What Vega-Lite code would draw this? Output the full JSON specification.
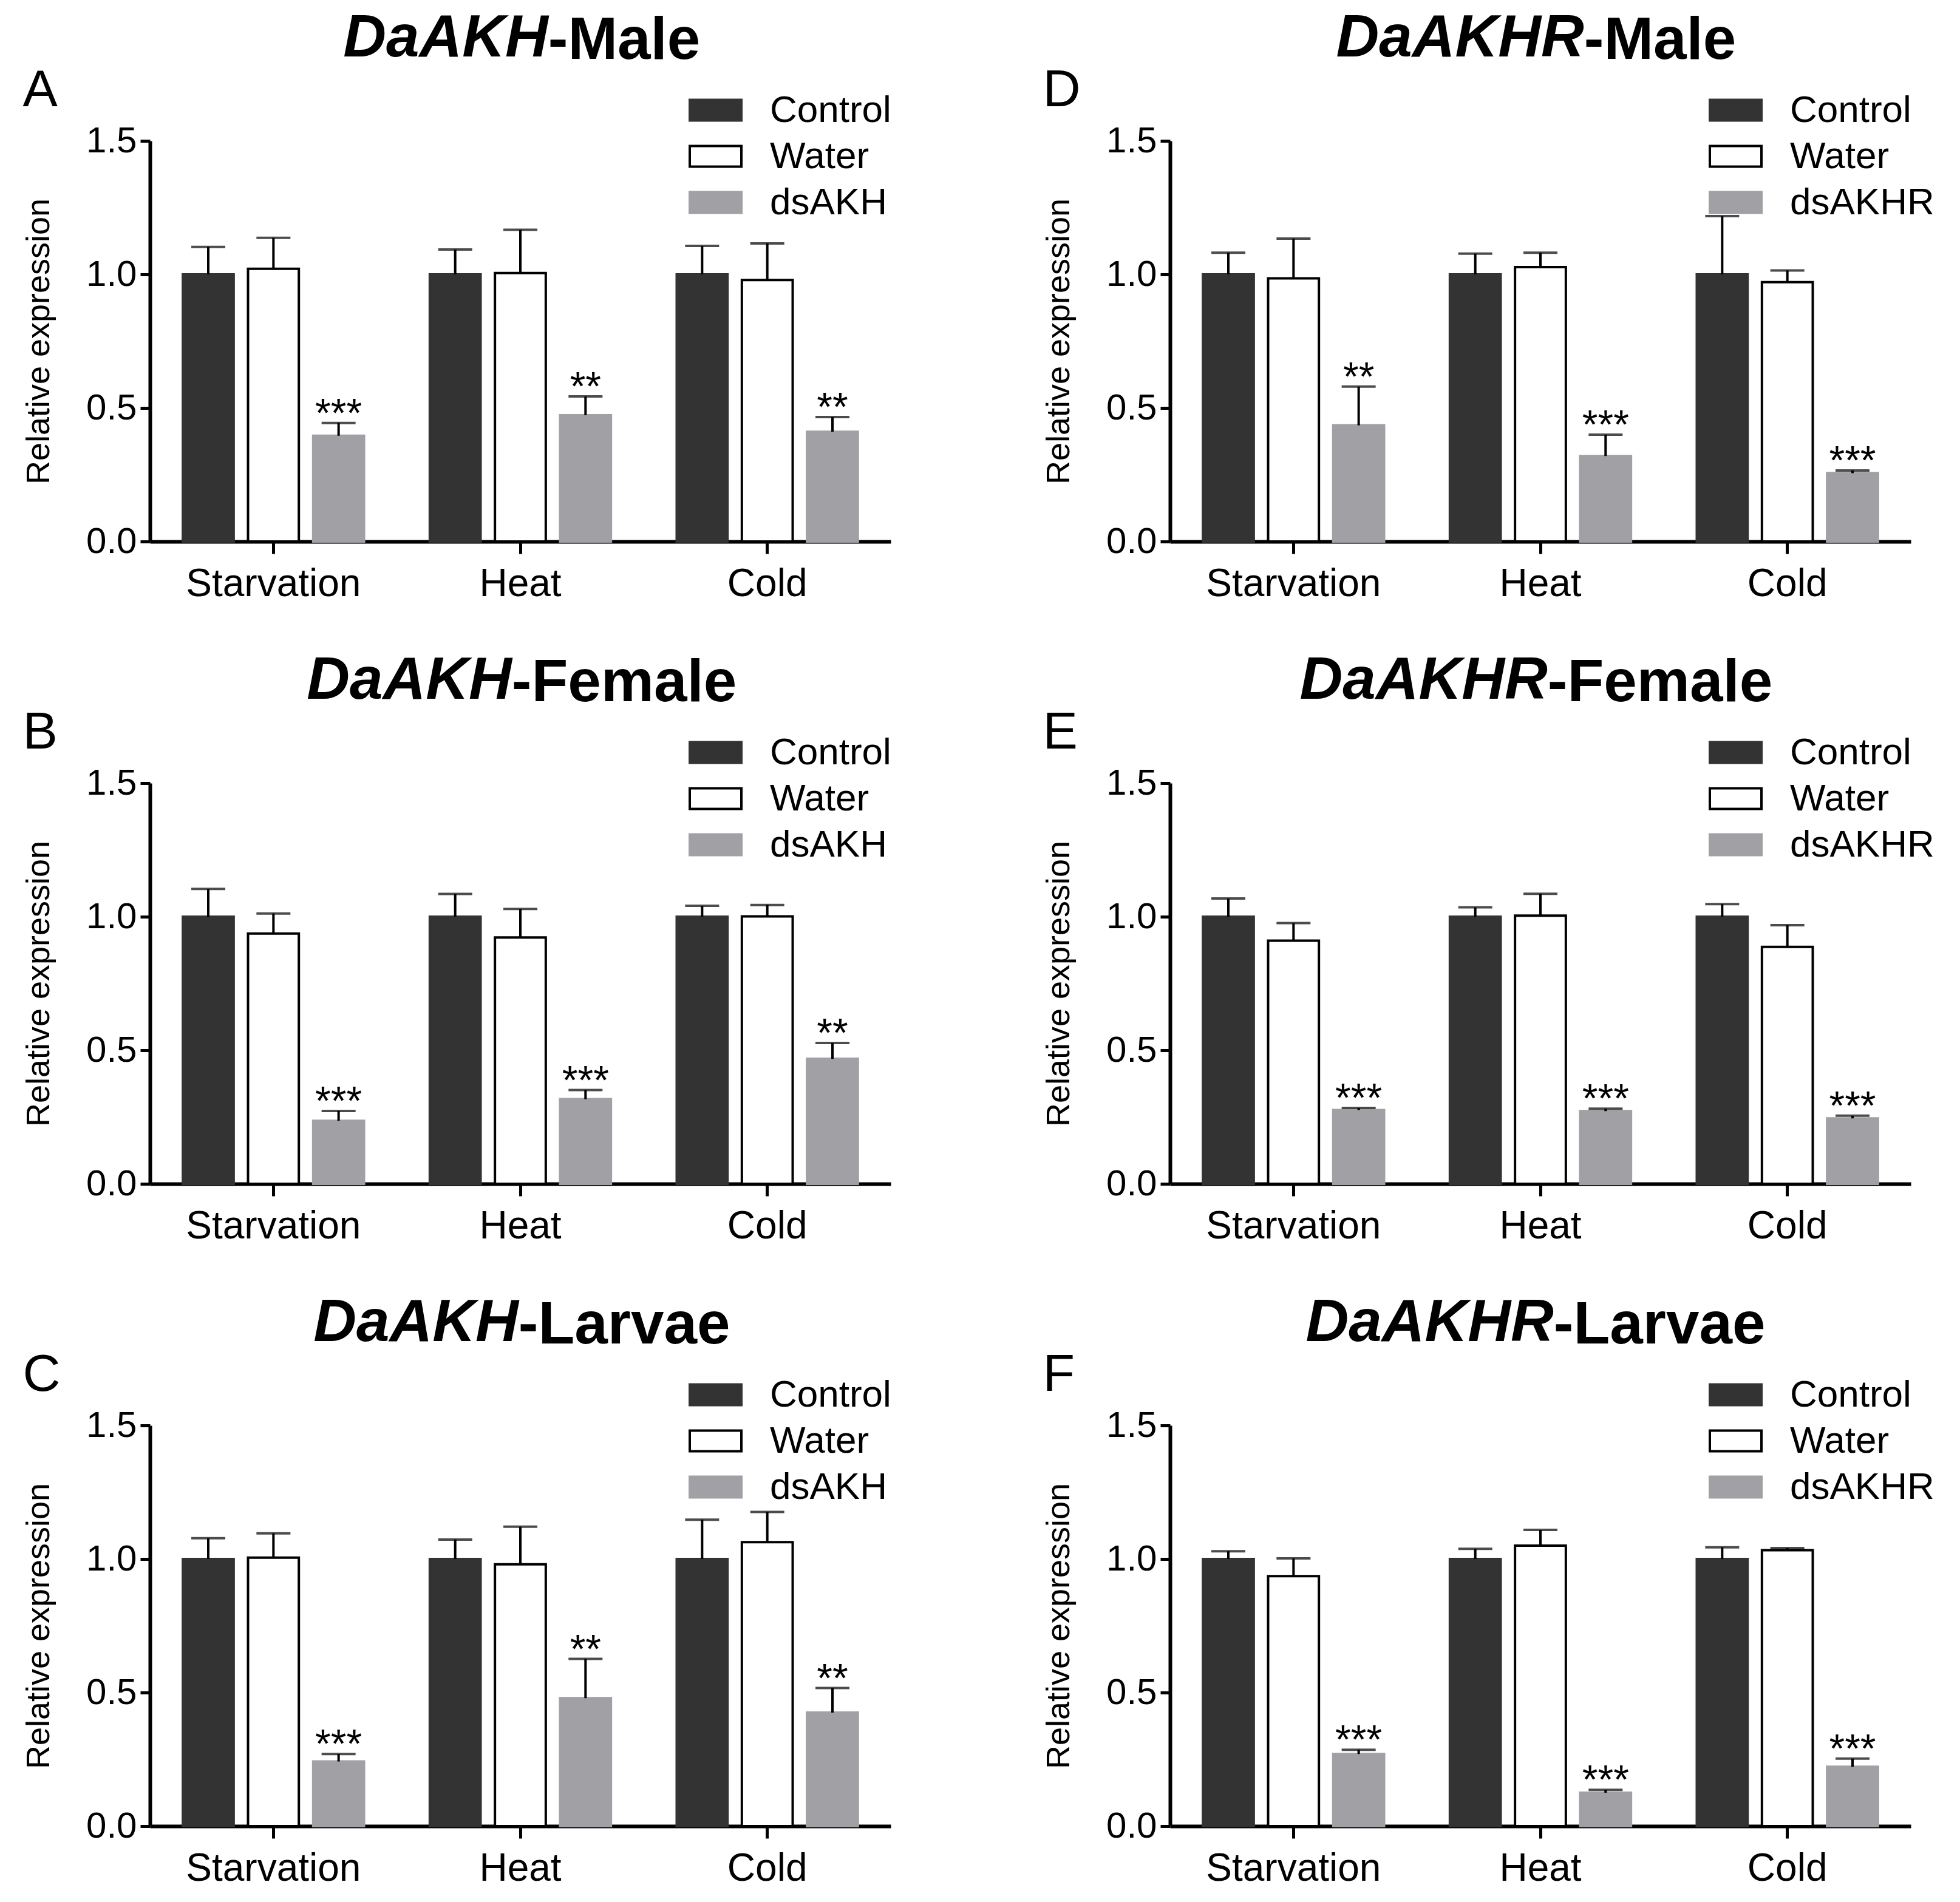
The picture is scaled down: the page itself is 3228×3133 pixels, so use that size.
{
  "$schema": "https://vega.github.io/schema/vega-lite/v6.json",
  "background": "white",
  "padding": {"left": 37, "top": 15, "right": 5, "bottom": 5},
  "data": {"values": [
    {"panel":"A","condition":"Starvation","treatment":"Control","mean":1.0,"upper":1.103,"sig":""},
    {"panel":"A","condition":"Starvation","treatment":"Water","mean":1.021,"upper":1.137,"sig":""},
    {"panel":"A","condition":"Starvation","treatment":"dsAKH","mean":0.396,"upper":0.444,"sig":"***"},
    {"panel":"A","condition":"Heat","treatment":"Control","mean":1.0,"upper":1.093,"sig":""},
    {"panel":"A","condition":"Heat","treatment":"Water","mean":1.005,"upper":1.167,"sig":""},
    {"panel":"A","condition":"Heat","treatment":"dsAKH","mean":0.473,"upper":0.543,"sig":"**"},
    {"panel":"A","condition":"Cold","treatment":"Control","mean":1.0,"upper":1.107,"sig":""},
    {"panel":"A","condition":"Cold","treatment":"Water","mean":0.979,"upper":1.116,"sig":""},
    {"panel":"A","condition":"Cold","treatment":"dsAKH","mean":0.411,"upper":0.466,"sig":"**"},
    {"panel":"B","condition":"Starvation","treatment":"Control","mean":1.0,"upper":1.104,"sig":""},
    {"panel":"B","condition":"Starvation","treatment":"Water","mean":0.937,"upper":1.012,"sig":""},
    {"panel":"B","condition":"Starvation","treatment":"dsAKH","mean":0.236,"upper":0.273,"sig":"***"},
    {"panel":"B","condition":"Heat","treatment":"Control","mean":1.0,"upper":1.085,"sig":""},
    {"panel":"B","condition":"Heat","treatment":"Water","mean":0.922,"upper":1.029,"sig":""},
    {"panel":"B","condition":"Heat","treatment":"dsAKH","mean":0.317,"upper":0.351,"sig":"***"},
    {"panel":"B","condition":"Cold","treatment":"Control","mean":1.0,"upper":1.041,"sig":""},
    {"panel":"B","condition":"Cold","treatment":"Water","mean":1.001,"upper":1.044,"sig":""},
    {"panel":"B","condition":"Cold","treatment":"dsAKH","mean":0.468,"upper":0.527,"sig":"**"},
    {"panel":"C","condition":"Starvation","treatment":"Control","mean":1.0,"upper":1.078,"sig":""},
    {"panel":"C","condition":"Starvation","treatment":"Water","mean":1.005,"upper":1.096,"sig":""},
    {"panel":"C","condition":"Starvation","treatment":"dsAKH","mean":0.242,"upper":0.270,"sig":"***"},
    {"panel":"C","condition":"Heat","treatment":"Control","mean":1.0,"upper":1.073,"sig":""},
    {"panel":"C","condition":"Heat","treatment":"Water","mean":0.980,"upper":1.121,"sig":""},
    {"panel":"C","condition":"Heat","treatment":"dsAKH","mean":0.479,"upper":0.626,"sig":"**"},
    {"panel":"C","condition":"Cold","treatment":"Control","mean":1.0,"upper":1.147,"sig":""},
    {"panel":"C","condition":"Cold","treatment":"Water","mean":1.063,"upper":1.176,"sig":""},
    {"panel":"C","condition":"Cold","treatment":"dsAKH","mean":0.425,"upper":0.517,"sig":"**"},
    {"panel":"D","condition":"Starvation","treatment":"Control","mean":1.0,"upper":1.081,"sig":""},
    {"panel":"D","condition":"Starvation","treatment":"Water","mean":0.985,"upper":1.134,"sig":""},
    {"panel":"D","condition":"Starvation","treatment":"dsAKHR","mean":0.435,"upper":0.580,"sig":"**"},
    {"panel":"D","condition":"Heat","treatment":"Control","mean":1.0,"upper":1.078,"sig":""},
    {"panel":"D","condition":"Heat","treatment":"Water","mean":1.027,"upper":1.081,"sig":""},
    {"panel":"D","condition":"Heat","treatment":"dsAKHR","mean":0.320,"upper":0.400,"sig":"***"},
    {"panel":"D","condition":"Cold","treatment":"Control","mean":1.0,"upper":1.218,"sig":""},
    {"panel":"D","condition":"Cold","treatment":"Water","mean":0.971,"upper":1.015,"sig":""},
    {"panel":"D","condition":"Cold","treatment":"dsAKHR","mean":0.256,"upper":0.266,"sig":"***"},
    {"panel":"E","condition":"Starvation","treatment":"Control","mean":1.0,"upper":1.068,"sig":""},
    {"panel":"E","condition":"Starvation","treatment":"Water","mean":0.910,"upper":0.976,"sig":""},
    {"panel":"E","condition":"Starvation","treatment":"dsAKHR","mean":0.276,"upper":0.284,"sig":"***"},
    {"panel":"E","condition":"Heat","treatment":"Control","mean":1.0,"upper":1.035,"sig":""},
    {"panel":"E","condition":"Heat","treatment":"Water","mean":1.004,"upper":1.086,"sig":""},
    {"panel":"E","condition":"Heat","treatment":"dsAKHR","mean":0.272,"upper":0.281,"sig":"***"},
    {"panel":"E","condition":"Cold","treatment":"Control","mean":1.0,"upper":1.047,"sig":""},
    {"panel":"E","condition":"Cold","treatment":"Water","mean":0.887,"upper":0.968,"sig":""},
    {"panel":"E","condition":"Cold","treatment":"dsAKHR","mean":0.245,"upper":0.255,"sig":"***"},
    {"panel":"F","condition":"Starvation","treatment":"Control","mean":1.0,"upper":1.029,"sig":""},
    {"panel":"F","condition":"Starvation","treatment":"Water","mean":0.936,"upper":1.002,"sig":""},
    {"panel":"F","condition":"Starvation","treatment":"dsAKHR","mean":0.270,"upper":0.286,"sig":"***"},
    {"panel":"F","condition":"Heat","treatment":"Control","mean":1.0,"upper":1.038,"sig":""},
    {"panel":"F","condition":"Heat","treatment":"Water","mean":1.050,"upper":1.109,"sig":""},
    {"panel":"F","condition":"Heat","treatment":"dsAKHR","mean":0.125,"upper":0.136,"sig":"***"},
    {"panel":"F","condition":"Cold","treatment":"Control","mean":1.0,"upper":1.044,"sig":""},
    {"panel":"F","condition":"Cold","treatment":"Water","mean":1.033,"upper":1.041,"sig":""},
    {"panel":"F","condition":"Cold","treatment":"dsAKHR","mean":0.222,"upper":0.253,"sig":"***"}
  ]},
  "config": {
    "font": "Liberation Sans",
    "view": {"stroke": null},
    "axis": {"grid": false, "domainColor": "black", "domainWidth": 6, "tickColor": "black", "tickWidth": 5, "labelColor": "black", "titleColor": "black", "labelFont": "Liberation Sans", "titleFont": "Liberation Sans", "labelFontSize": 60, "titleFontWeight": "normal", "labelLimit": 0},
    "title": {"font": "Liberation Sans", "fontSize": 98, "fontWeight": "bold", "color": "black", "anchor": "middle", "baseline": "alphabetic", "offset": -12},
    "legend": {"labelFont": "Liberation Sans", "labelFontSize": 62, "labelColor": "black", "padding": 0, "labelLimit": 0}
  },
  "resolve": {"scale": {"x": "independent", "y": "independent", "xOffset": "independent", "fill": "independent", "stroke": "independent"}, "legend": {"fill": "independent", "stroke": "independent"}, "axis": {"x": "independent", "y": "independent"}},
  "spacing": 79,
  "vconcat": [
    {"hconcat": [
      {"title": {"text": "DaAKH", "fontStyle": "italic", "align": "right", "dx": 150, "offset": -95}, "resolve": {"scale": {"x": "independent", "y": "independent", "xOffset": "independent", "fill": "independent", "stroke": "independent"}, "legend": {"fill": "independent", "stroke": "independent"}},
       "vconcat": [{"title": {"text": "-Male", "align": "left", "dx": 150}, "resolve": {"scale": {"x": "independent", "y": "independent", "xOffset": "independent", "fill": "independent", "stroke": "independent"}, "legend": {"fill": "independent", "stroke": "independent"}},
        "vconcat": [{
        "title": {"text": "A", "anchor": "start", "frame": "bounds", "fontSize": 86, "fontWeight": "normal", "offset": -56},
        "width": 1220, "height": 660,
        "transform": [{"filter": "datum.panel === 'A'"}],
        "encoding": {
          "x": {"field": "condition", "type": "nominal", "sort": ["Starvation","Heat","Cold"], "scale": {"paddingInner": 0.24, "paddingOuter": 0.12}, "axis": {"title": null, "labelAngle": 0, "tickSize": 20, "labelPadding": 18, "labelFontSize": 64}},
          "xOffset": {"field": "treatment", "type": "nominal", "sort": ["Control","Water","dsAKH"], "scale": {"domain": ["Control","Water","dsAKH"], "paddingInner": 0.22, "paddingOuter": 0.05}}
        },
        "layer": [
          {"mark": {"type": "bar", "strokeWidth": 4},
           "encoding": {
             "y": {"field": "mean", "type": "quantitative", "scale": {"domain": [0, 1.5], "nice": false}, "axis": {"title": "Relative expression", "titleFontSize": 54, "titlePadding": 50, "values": [0, 0.5, 1, 1.5], "format": ".1f", "tickSize": 16, "labelPadding": 6}},
             "fill": {"field": "treatment", "type": "nominal", "scale": {"domain": ["Control","Water","dsAKH"], "range": ["#333333","#ffffff","#a1a1a5"]}, "legend": {"title": null, "orient": "none", "legendX": 887, "legendY": -95, "symbolType": "M-1,-0.4H1V0.4H-1Z", "symbolSize": 7225, "symbolStrokeWidth": 4, "labelOffset": 45, "rowPadding": 0}},
             "stroke": {"field": "treatment", "type": "nominal", "scale": {"domain": ["Control","Water","dsAKH"], "range": ["#333333","#000000","#a1a1a5"]}, "legend": {"title": null, "orient": "none", "legendX": 887, "legendY": -95, "symbolType": "M-1,-0.4H1V0.4H-1Z", "symbolSize": 7225, "symbolStrokeWidth": 4, "labelOffset": 45, "rowPadding": 0}}
           }},
          {"mark": {"type": "rule", "color": "black", "strokeWidth": 4}, "encoding": {"y": {"field": "mean", "type": "quantitative", "title": "Relative expression"}, "y2": {"field": "upper"}}},
          {"mark": {"type": "tick", "color": "black", "thickness": 4, "size": 56}, "encoding": {"y": {"field": "upper", "type": "quantitative", "title": "Relative expression"}}},
          {"mark": {"type": "text", "fontSize": 66, "dy": 6, "baseline": "alphabetic", "color": "black"}, "encoding": {"y": {"field": "upper", "type": "quantitative", "title": "Relative expression"}, "text": {"field": "sig"}}}
        ]
      }]}]},
      {"title": {"text": "DaAKHR", "fontStyle": "italic", "align": "right", "dx": 157, "offset": -95}, "resolve": {"scale": {"x": "independent", "y": "independent", "xOffset": "independent", "fill": "independent", "stroke": "independent"}, "legend": {"fill": "independent", "stroke": "independent"}},
       "vconcat": [{"title": {"text": "-Male", "align": "left", "dx": 157}, "resolve": {"scale": {"x": "independent", "y": "independent", "xOffset": "independent", "fill": "independent", "stroke": "independent"}, "legend": {"fill": "independent", "stroke": "independent"}},
        "vconcat": [{
        "title": {"text": "D", "anchor": "start", "frame": "bounds", "fontSize": 86, "fontWeight": "normal", "offset": -56},
        "width": 1220, "height": 660,
        "transform": [{"filter": "datum.panel === 'D'"}],
        "encoding": {
          "x": {"field": "condition", "type": "nominal", "sort": ["Starvation","Heat","Cold"], "scale": {"paddingInner": 0.24, "paddingOuter": 0.12}, "axis": {"title": null, "labelAngle": 0, "tickSize": 20, "labelPadding": 18, "labelFontSize": 64}},
          "xOffset": {"field": "treatment", "type": "nominal", "sort": ["Control","Water","dsAKHR"], "scale": {"domain": ["Control","Water","dsAKHR"], "paddingInner": 0.22, "paddingOuter": 0.05}}
        },
        "layer": [
          {"mark": {"type": "bar", "strokeWidth": 4},
           "encoding": {
             "y": {"field": "mean", "type": "quantitative", "scale": {"domain": [0, 1.5], "nice": false}, "axis": {"title": "Relative expression", "titleFontSize": 54, "titlePadding": 50, "values": [0, 0.5, 1, 1.5], "format": ".1f", "tickSize": 16, "labelPadding": 6}},
             "fill": {"field": "treatment", "type": "nominal", "scale": {"domain": ["Control","Water","dsAKHR"], "range": ["#333333","#ffffff","#a1a1a5"]}, "legend": {"title": null, "orient": "none", "legendX": 887, "legendY": -95, "symbolType": "M-1,-0.4H1V0.4H-1Z", "symbolSize": 7225, "symbolStrokeWidth": 4, "labelOffset": 45, "rowPadding": 0}},
             "stroke": {"field": "treatment", "type": "nominal", "scale": {"domain": ["Control","Water","dsAKHR"], "range": ["#333333","#000000","#a1a1a5"]}, "legend": {"title": null, "orient": "none", "legendX": 887, "legendY": -95, "symbolType": "M-1,-0.4H1V0.4H-1Z", "symbolSize": 7225, "symbolStrokeWidth": 4, "labelOffset": 45, "rowPadding": 0}}
           }},
          {"mark": {"type": "rule", "color": "black", "strokeWidth": 4}, "encoding": {"y": {"field": "mean", "type": "quantitative", "title": "Relative expression"}, "y2": {"field": "upper"}}},
          {"mark": {"type": "tick", "color": "black", "thickness": 4, "size": 56}, "encoding": {"y": {"field": "upper", "type": "quantitative", "title": "Relative expression"}}},
          {"mark": {"type": "text", "fontSize": 66, "dy": 6, "baseline": "alphabetic", "color": "black"}, "encoding": {"y": {"field": "upper", "type": "quantitative", "title": "Relative expression"}, "text": {"field": "sig"}}}
        ]
      }]}]}
    ], "spacing": 249, "resolve": {"scale": {"x": "independent", "y": "independent", "xOffset": "independent", "fill": "independent", "stroke": "independent"}, "legend": {"fill": "independent", "stroke": "independent"}}},
    {"hconcat": [
      {"title": {"text": "DaAKH", "fontStyle": "italic", "align": "right", "dx": 90, "offset": -95}, "resolve": {"scale": {"x": "independent", "y": "independent", "xOffset": "independent", "fill": "independent", "stroke": "independent"}, "legend": {"fill": "independent", "stroke": "independent"}},
       "vconcat": [{"title": {"text": "-Female", "align": "left", "dx": 90}, "resolve": {"scale": {"x": "independent", "y": "independent", "xOffset": "independent", "fill": "independent", "stroke": "independent"}, "legend": {"fill": "independent", "stroke": "independent"}},
        "vconcat": [{
        "title": {"text": "B", "anchor": "start", "frame": "bounds", "fontSize": 86, "fontWeight": "normal", "offset": -56},
        "width": 1220, "height": 660,
        "transform": [{"filter": "datum.panel === 'B'"}],
        "encoding": {
          "x": {"field": "condition", "type": "nominal", "sort": ["Starvation","Heat","Cold"], "scale": {"paddingInner": 0.24, "paddingOuter": 0.12}, "axis": {"title": null, "labelAngle": 0, "tickSize": 20, "labelPadding": 18, "labelFontSize": 64}},
          "xOffset": {"field": "treatment", "type": "nominal", "sort": ["Control","Water","dsAKH"], "scale": {"domain": ["Control","Water","dsAKH"], "paddingInner": 0.22, "paddingOuter": 0.05}}
        },
        "layer": [
          {"mark": {"type": "bar", "strokeWidth": 4},
           "encoding": {
             "y": {"field": "mean", "type": "quantitative", "scale": {"domain": [0, 1.5], "nice": false}, "axis": {"title": "Relative expression", "titleFontSize": 54, "titlePadding": 50, "values": [0, 0.5, 1, 1.5], "format": ".1f", "tickSize": 16, "labelPadding": 6}},
             "fill": {"field": "treatment", "type": "nominal", "scale": {"domain": ["Control","Water","dsAKH"], "range": ["#333333","#ffffff","#a1a1a5"]}, "legend": {"title": null, "orient": "none", "legendX": 887, "legendY": -95, "symbolType": "M-1,-0.4H1V0.4H-1Z", "symbolSize": 7225, "symbolStrokeWidth": 4, "labelOffset": 45, "rowPadding": 0}},
             "stroke": {"field": "treatment", "type": "nominal", "scale": {"domain": ["Control","Water","dsAKH"], "range": ["#333333","#000000","#a1a1a5"]}, "legend": {"title": null, "orient": "none", "legendX": 887, "legendY": -95, "symbolType": "M-1,-0.4H1V0.4H-1Z", "symbolSize": 7225, "symbolStrokeWidth": 4, "labelOffset": 45, "rowPadding": 0}}
           }},
          {"mark": {"type": "rule", "color": "black", "strokeWidth": 4}, "encoding": {"y": {"field": "mean", "type": "quantitative", "title": "Relative expression"}, "y2": {"field": "upper"}}},
          {"mark": {"type": "tick", "color": "black", "thickness": 4, "size": 56}, "encoding": {"y": {"field": "upper", "type": "quantitative", "title": "Relative expression"}}},
          {"mark": {"type": "text", "fontSize": 66, "dy": 6, "baseline": "alphabetic", "color": "black"}, "encoding": {"y": {"field": "upper", "type": "quantitative", "title": "Relative expression"}, "text": {"field": "sig"}}}
        ]
      }]}]},
      {"title": {"text": "DaAKHR", "fontStyle": "italic", "align": "right", "dx": 97, "offset": -95}, "resolve": {"scale": {"x": "independent", "y": "independent", "xOffset": "independent", "fill": "independent", "stroke": "independent"}, "legend": {"fill": "independent", "stroke": "independent"}},
       "vconcat": [{"title": {"text": "-Female", "align": "left", "dx": 97}, "resolve": {"scale": {"x": "independent", "y": "independent", "xOffset": "independent", "fill": "independent", "stroke": "independent"}, "legend": {"fill": "independent", "stroke": "independent"}},
        "vconcat": [{
        "title": {"text": "E", "anchor": "start", "frame": "bounds", "fontSize": 86, "fontWeight": "normal", "offset": -56},
        "width": 1220, "height": 660,
        "transform": [{"filter": "datum.panel === 'E'"}],
        "encoding": {
          "x": {"field": "condition", "type": "nominal", "sort": ["Starvation","Heat","Cold"], "scale": {"paddingInner": 0.24, "paddingOuter": 0.12}, "axis": {"title": null, "labelAngle": 0, "tickSize": 20, "labelPadding": 18, "labelFontSize": 64}},
          "xOffset": {"field": "treatment", "type": "nominal", "sort": ["Control","Water","dsAKHR"], "scale": {"domain": ["Control","Water","dsAKHR"], "paddingInner": 0.22, "paddingOuter": 0.05}}
        },
        "layer": [
          {"mark": {"type": "bar", "strokeWidth": 4},
           "encoding": {
             "y": {"field": "mean", "type": "quantitative", "scale": {"domain": [0, 1.5], "nice": false}, "axis": {"title": "Relative expression", "titleFontSize": 54, "titlePadding": 50, "values": [0, 0.5, 1, 1.5], "format": ".1f", "tickSize": 16, "labelPadding": 6}},
             "fill": {"field": "treatment", "type": "nominal", "scale": {"domain": ["Control","Water","dsAKHR"], "range": ["#333333","#ffffff","#a1a1a5"]}, "legend": {"title": null, "orient": "none", "legendX": 887, "legendY": -95, "symbolType": "M-1,-0.4H1V0.4H-1Z", "symbolSize": 7225, "symbolStrokeWidth": 4, "labelOffset": 45, "rowPadding": 0}},
             "stroke": {"field": "treatment", "type": "nominal", "scale": {"domain": ["Control","Water","dsAKHR"], "range": ["#333333","#000000","#a1a1a5"]}, "legend": {"title": null, "orient": "none", "legendX": 887, "legendY": -95, "symbolType": "M-1,-0.4H1V0.4H-1Z", "symbolSize": 7225, "symbolStrokeWidth": 4, "labelOffset": 45, "rowPadding": 0}}
           }},
          {"mark": {"type": "rule", "color": "black", "strokeWidth": 4}, "encoding": {"y": {"field": "mean", "type": "quantitative", "title": "Relative expression"}, "y2": {"field": "upper"}}},
          {"mark": {"type": "tick", "color": "black", "thickness": 4, "size": 56}, "encoding": {"y": {"field": "upper", "type": "quantitative", "title": "Relative expression"}}},
          {"mark": {"type": "text", "fontSize": 66, "dy": 6, "baseline": "alphabetic", "color": "black"}, "encoding": {"y": {"field": "upper", "type": "quantitative", "title": "Relative expression"}, "text": {"field": "sig"}}}
        ]
      }]}]}
    ], "spacing": 249, "resolve": {"scale": {"x": "independent", "y": "independent", "xOffset": "independent", "fill": "independent", "stroke": "independent"}, "legend": {"fill": "independent", "stroke": "independent"}}},
    {"hconcat": [
      {"title": {"text": "DaAKH", "fontStyle": "italic", "align": "right", "dx": 101, "offset": -95}, "resolve": {"scale": {"x": "independent", "y": "independent", "xOffset": "independent", "fill": "independent", "stroke": "independent"}, "legend": {"fill": "independent", "stroke": "independent"}},
       "vconcat": [{"title": {"text": "-Larvae", "align": "left", "dx": 101}, "resolve": {"scale": {"x": "independent", "y": "independent", "xOffset": "independent", "fill": "independent", "stroke": "independent"}, "legend": {"fill": "independent", "stroke": "independent"}},
        "vconcat": [{
        "title": {"text": "C", "anchor": "start", "frame": "bounds", "fontSize": 86, "fontWeight": "normal", "offset": -56},
        "width": 1220, "height": 660,
        "transform": [{"filter": "datum.panel === 'C'"}],
        "encoding": {
          "x": {"field": "condition", "type": "nominal", "sort": ["Starvation","Heat","Cold"], "scale": {"paddingInner": 0.24, "paddingOuter": 0.12}, "axis": {"title": null, "labelAngle": 0, "tickSize": 20, "labelPadding": 18, "labelFontSize": 64}},
          "xOffset": {"field": "treatment", "type": "nominal", "sort": ["Control","Water","dsAKH"], "scale": {"domain": ["Control","Water","dsAKH"], "paddingInner": 0.22, "paddingOuter": 0.05}}
        },
        "layer": [
          {"mark": {"type": "bar", "strokeWidth": 4},
           "encoding": {
             "y": {"field": "mean", "type": "quantitative", "scale": {"domain": [0, 1.5], "nice": false}, "axis": {"title": "Relative expression", "titleFontSize": 54, "titlePadding": 50, "values": [0, 0.5, 1, 1.5], "format": ".1f", "tickSize": 16, "labelPadding": 6}},
             "fill": {"field": "treatment", "type": "nominal", "scale": {"domain": ["Control","Water","dsAKH"], "range": ["#333333","#ffffff","#a1a1a5"]}, "legend": {"title": null, "orient": "none", "legendX": 887, "legendY": -95, "symbolType": "M-1,-0.4H1V0.4H-1Z", "symbolSize": 7225, "symbolStrokeWidth": 4, "labelOffset": 45, "rowPadding": 0}},
             "stroke": {"field": "treatment", "type": "nominal", "scale": {"domain": ["Control","Water","dsAKH"], "range": ["#333333","#000000","#a1a1a5"]}, "legend": {"title": null, "orient": "none", "legendX": 887, "legendY": -95, "symbolType": "M-1,-0.4H1V0.4H-1Z", "symbolSize": 7225, "symbolStrokeWidth": 4, "labelOffset": 45, "rowPadding": 0}}
           }},
          {"mark": {"type": "rule", "color": "black", "strokeWidth": 4}, "encoding": {"y": {"field": "mean", "type": "quantitative", "title": "Relative expression"}, "y2": {"field": "upper"}}},
          {"mark": {"type": "tick", "color": "black", "thickness": 4, "size": 56}, "encoding": {"y": {"field": "upper", "type": "quantitative", "title": "Relative expression"}}},
          {"mark": {"type": "text", "fontSize": 66, "dy": 6, "baseline": "alphabetic", "color": "black"}, "encoding": {"y": {"field": "upper", "type": "quantitative", "title": "Relative expression"}, "text": {"field": "sig"}}}
        ]
      }]}]},
      {"title": {"text": "DaAKHR", "fontStyle": "italic", "align": "right", "dx": 107, "offset": -95}, "resolve": {"scale": {"x": "independent", "y": "independent", "xOffset": "independent", "fill": "independent", "stroke": "independent"}, "legend": {"fill": "independent", "stroke": "independent"}},
       "vconcat": [{"title": {"text": "-Larvae", "align": "left", "dx": 107}, "resolve": {"scale": {"x": "independent", "y": "independent", "xOffset": "independent", "fill": "independent", "stroke": "independent"}, "legend": {"fill": "independent", "stroke": "independent"}},
        "vconcat": [{
        "title": {"text": "F", "anchor": "start", "frame": "bounds", "fontSize": 86, "fontWeight": "normal", "offset": -56},
        "width": 1220, "height": 660,
        "transform": [{"filter": "datum.panel === 'F'"}],
        "encoding": {
          "x": {"field": "condition", "type": "nominal", "sort": ["Starvation","Heat","Cold"], "scale": {"paddingInner": 0.24, "paddingOuter": 0.12}, "axis": {"title": null, "labelAngle": 0, "tickSize": 20, "labelPadding": 18, "labelFontSize": 64}},
          "xOffset": {"field": "treatment", "type": "nominal", "sort": ["Control","Water","dsAKHR"], "scale": {"domain": ["Control","Water","dsAKHR"], "paddingInner": 0.22, "paddingOuter": 0.05}}
        },
        "layer": [
          {"mark": {"type": "bar", "strokeWidth": 4},
           "encoding": {
             "y": {"field": "mean", "type": "quantitative", "scale": {"domain": [0, 1.5], "nice": false}, "axis": {"title": "Relative expression", "titleFontSize": 54, "titlePadding": 50, "values": [0, 0.5, 1, 1.5], "format": ".1f", "tickSize": 16, "labelPadding": 6}},
             "fill": {"field": "treatment", "type": "nominal", "scale": {"domain": ["Control","Water","dsAKHR"], "range": ["#333333","#ffffff","#a1a1a5"]}, "legend": {"title": null, "orient": "none", "legendX": 887, "legendY": -95, "symbolType": "M-1,-0.4H1V0.4H-1Z", "symbolSize": 7225, "symbolStrokeWidth": 4, "labelOffset": 45, "rowPadding": 0}},
             "stroke": {"field": "treatment", "type": "nominal", "scale": {"domain": ["Control","Water","dsAKHR"], "range": ["#333333","#000000","#a1a1a5"]}, "legend": {"title": null, "orient": "none", "legendX": 887, "legendY": -95, "symbolType": "M-1,-0.4H1V0.4H-1Z", "symbolSize": 7225, "symbolStrokeWidth": 4, "labelOffset": 45, "rowPadding": 0}}
           }},
          {"mark": {"type": "rule", "color": "black", "strokeWidth": 4}, "encoding": {"y": {"field": "mean", "type": "quantitative", "title": "Relative expression"}, "y2": {"field": "upper"}}},
          {"mark": {"type": "tick", "color": "black", "thickness": 4, "size": 56}, "encoding": {"y": {"field": "upper", "type": "quantitative", "title": "Relative expression"}}},
          {"mark": {"type": "text", "fontSize": 66, "dy": 6, "baseline": "alphabetic", "color": "black"}, "encoding": {"y": {"field": "upper", "type": "quantitative", "title": "Relative expression"}, "text": {"field": "sig"}}}
        ]
      }]}]}
    ], "spacing": 249, "resolve": {"scale": {"x": "independent", "y": "independent", "xOffset": "independent", "fill": "independent", "stroke": "independent"}, "legend": {"fill": "independent", "stroke": "independent"}}}
  ]
}
